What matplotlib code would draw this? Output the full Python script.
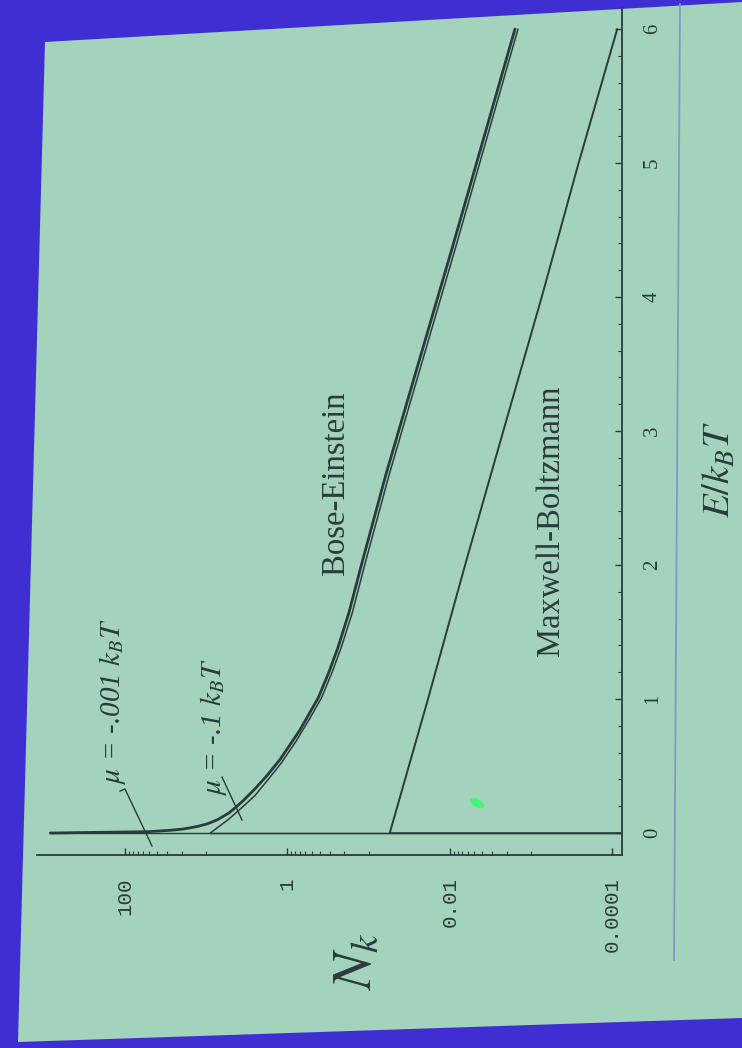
import matplotlib
matplotlib.use("Agg")
import matplotlib.pyplot as plt
from matplotlib.patches import Polygon, Ellipse
from matplotlib.lines import Line2D

plt.rcParams['font.family'] = ['Liberation Serif', 'DejaVu Serif']
plt.rcParams['mathtext.fontset'] = 'stix'

# values (E in units of kT, N_k occupation)
# Bose-Einstein, mu = -.001 kT
e_be1 = [0.0, 0.01, 0.02, 0.03, 0.05, 0.07, 0.1, 0.15, 0.2, 0.25, 0.33, 0.43, 0.55, 0.77,
         1.01, 1.2, 1.38, 1.65, 2.0, 2.67, 3.21, 4.39, 6.0]
n_be1 = [832, 52.5, 28.2, 19.1, 12.6, 9.55, 7.24, 5.25, 4.17, 3.39, 2.51, 1.78, 1.23, 0.70,
         0.417, 0.309, 0.240, 0.174, 0.123, 0.0617, 0.0339, 0.00912, 0.00158]

# Bose-Einstein, mu = -.1 kT
e_be2 = [0.0, 0.05, 0.1, 0.19, 0.28, 0.39, 0.52, 0.68, 0.85, 1.01, 1.2, 1.38, 1.65, 2.0,
         2.67, 3.21, 4.39, 6.0]
n_be2 = [8.91, 6.92, 5.37, 3.63, 2.51, 1.78, 1.20, 0.794, 0.537, 0.380, 0.282, 0.219, 0.158,
         0.112, 0.0562, 0.0309, 0.00832, 0.00145]

# Maxwell-Boltzmann
e_mb = [0, 1, 2, 3, 4, 5, 6]
n_mb = [0.055, 0.0186, 0.0065, 0.0022, 0.00074, 0.00026, 0.000087]

n_ticks = [100, 1, 0.01, 0.0001]
n_tick_labels = ['100', '1', '0.01', '0.0001']
n_minor = [k * 10.0 ** p for p in [1, -1, -3] for k in range(1, 10)]
e_ticks = [0, 1, 2, 3, 4, 5, 6]
e_minor = [i * 0.2 for i in range(0, 31)]

W, H = 742, 1048
BLUE = '#3f2fd3'
SLIDE = '#a3d3bd'
INK = '#2b3b3c'


def fx(x):
    return x / W


def fy(y):
    return 1 - y / H


fig = plt.figure(figsize=(W / 100, H / 100), dpi=100, facecolor=BLUE)

# the projected slide
slide = Polygon([(fx(45), fy(42)), (fx(742), fy(2)), (fx(742), fy(1018)), (fx(18), fy(1042))],
                closed=True, transform=fig.transFigure, facecolor=SLIDE, edgecolor='none', zorder=-2)
fig.add_artist(slide)
fig.add_artist(Line2D([fx(680), fx(674)], [fy(4), fy(960)], transform=fig.transFigure,
                      color='#7f99c8', lw=1.3, zorder=-1))

ax = fig.add_axes([fx(37), fy(855), (622 - 37) / W, (855 - 8) / H])
ax.patch.set_alpha(0)
ax.set_xscale('log')
ax.set_xlim(1213, 7.6e-5)
ax.set_ylim(-0.164, 6.157)

n_floor = 7.6e-5
kw = dict(color=INK, solid_joinstyle='round', solid_capstyle='round')
ax.plot([n_floor, n_mb[0]], [0, 0], lw=1.1, **kw)
ax.plot(n_mb, e_mb, lw=1.4, **kw)
ax.plot([n_floor, n_be2[0]], [0, 0], lw=1.0, **kw)
ax.plot(n_be2, e_be2, lw=1.1, **kw)
ax.plot([n_floor, n_be1[0]], [0, 0], lw=1.0, **kw)
ax.plot(n_be1, e_be1, lw=2.0, **kw)

for s in ['top', 'left']:
    ax.spines[s].set_visible(False)
for s in ['bottom', 'right']:
    ax.spines[s].set_color(INK)
    ax.spines[s].set_linewidth(1.3)

ax.yaxis.tick_right()
ax.set_xticks(n_ticks, n_tick_labels, fontfamily='Liberation Mono', fontsize=15, rotation=90)
ax.set_xticks(n_minor, minor=True)
ax.xaxis.set_minor_formatter(plt.NullFormatter())
ax.set_yticks(e_ticks, [str(t) for t in e_ticks], fontsize=15, rotation=90)
ax.set_yticks(e_minor, minor=True)
ax.tick_params(axis='both', which='major', direction='in', length=5, width=1, color=INK, labelcolor=INK)
ax.tick_params(axis='both', which='minor', direction='in', length=3, width=0.8, color=INK)
ax.tick_params(axis='x', which='major', pad=16)
ax.tick_params(axis='y', which='major', pad=15)
for lbl in ax.get_yticklabels():
    lbl.set_verticalalignment('center')

# axis labels
fig.text(fx(356), fy(962), r'$N_k$', fontsize=40, rotation=90, ha='center', va='center', color=INK)
fig.text(fx(720), fy(470), r'$E/k_BT$', fontsize=28, rotation=90, ha='center', va='center', color=INK)

# curve labels
fig.text(fx(336), fy(483), 'Bose-Einstein', fontsize=23.5, rotation=90, ha='center', va='center', color=INK)
fig.text(fx(551), fy(521), 'Maxwell-Boltzmann', fontsize=23.5, rotation=90, ha='center', va='center',
         color=INK)
fig.text(fx(112), fy(701), r'$\mu$ = -.001 $k_BT$', fontsize=21, style='italic', rotation=90,
         ha='center', va='center', color=INK)
fig.text(fx(214), fy(727), r'$\mu$ = -.1 $k_BT$', fontsize=21, style='italic', rotation=90,
         ha='center', va='center', color=INK)
fig.add_artist(Line2D([fx(120), fx(125), fx(152)], [fy(791), fy(789), fy(846)],
                      transform=fig.transFigure, color=INK, lw=1.0))
fig.add_artist(Line2D([fx(222), fx(242)], [fy(777), fy(820)],
                      transform=fig.transFigure, color=INK, lw=1.0))

# laser pointer spot
fig.add_artist(Ellipse((fx(477), fy(803)), 13 / W, 7 / H, angle=-20,
                       transform=fig.transFigure, color='#46f57a'))

fig.savefig('out.png', dpi=100, facecolor=BLUE)
